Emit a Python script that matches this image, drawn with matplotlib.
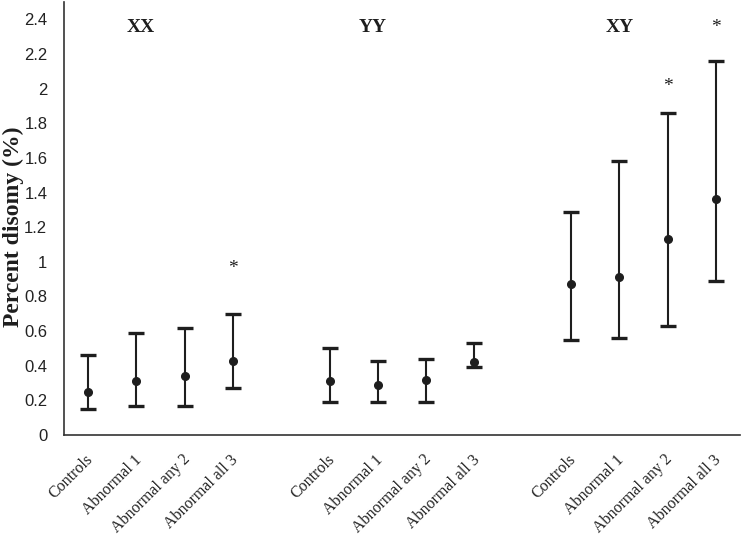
import matplotlib
matplotlib.use("Agg")
import matplotlib.pyplot as plt
import matplotlib.transforms as mtransforms
import numpy as np

groups = ["XX", "YY", "XY"]
categories = ["Controls", "Abnormal 1", "Abnormal any 2", "Abnormal all 3"]

# values per group (mean, upper, lower)
means = {
    "XX": [0.25, 0.31, 0.34, 0.43],
    "YY": [0.31, 0.29, 0.32, 0.42],
    "XY": [0.87, 0.91, 1.13, 1.36],
}
upper = {
    "XX": [0.46, 0.59, 0.62, 0.70],
    "YY": [0.50, 0.43, 0.44, 0.53],
    "XY": [1.29, 1.58, 1.86, 2.16],
}
lower = {
    "XX": [0.15, 0.17, 0.17, 0.27],
    "YY": [0.19, 0.19, 0.19, 0.39],
    "XY": [0.55, 0.56, 0.63, 0.89],
}
# significance stars (group, category index, y)
stars = [("XX", 3, 0.96), ("XY", 2, 2.01), ("XY", 3, 2.35)]
group_label_y = 2.35
group_label_x = {"XX": 1.1, "YY": 5.9, "XY": 11.0}

yticks = [0, 0.2, 0.4, 0.6, 0.8, 1, 1.2, 1.4, 1.6, 1.8, 2, 2.2, 2.4]
ytick_labels = ["0", "0.2", "0.4", "0.6", "0.8", "1", "1.2", "1.4", "1.6", "1.8", "2", "2.2", "2.4"]

fig = plt.figure(figsize=(7.42, 5.39), dpi=100)
ax = fig.add_axes([64 / 742, 1 - 435 / 539, (740 - 64) / 742, 433 / 539])

col = "#1e1e1e"
positions = []
labels = []
for gi, g in enumerate(groups):
    base = gi * 5
    xs = np.arange(4) + base
    m = np.array(means[g])
    up = np.array(upper[g]) - m
    lo = m - np.array(lower[g])
    ax.errorbar(xs, m, yerr=[lo, up], fmt="o", color=col, ms=5.5,
                elinewidth=1.5, capsize=5.5, capthick=2.4, ecolor=col)
    positions.extend(xs)
    labels.extend(categories)
    ax.text(group_label_x[g], group_label_y, g, ha="center", va="center",
            fontsize=14, fontweight="bold", family="Liberation Serif", color=col)

for g, ci, y in stars:
    x = groups.index(g) * 5 + ci
    ax.text(x, y, "*", ha="center", va="center", fontsize=14,
            family="Liberation Serif", color=col)

ax.set_xlim(-0.5, 13.5)
ax.set_ylim(0, 2.5)
ax.set_yticks(yticks)
ax.set_yticklabels(ytick_labels, family="Liberation Sans", fontsize=12, color="#222")
ax.set_xticks(positions)
ax.set_xticklabels(labels, rotation=45, ha="right", rotation_mode="anchor",
                   family="Liberation Serif", fontsize=11.5, color="#222")
ax.tick_params(axis="both", length=0)
ax.tick_params(axis="y", pad=12)
ax.tick_params(axis="x", pad=12)
for lbl in ax.get_xticklabels():
    lbl.set_transform(lbl.get_transform() + mtransforms.ScaledTranslation(-3 / 100, 0, fig.dpi_scale_trans))

for s in ["top", "right"]:
    ax.spines[s].set_visible(False)
for s in ["left", "bottom"]:
    ax.spines[s].set_color("#333")
    ax.spines[s].set_linewidth(1.2)

fig.text(13 / 742, 1 - 227 / 539, "Percent disomy (%)", rotation=90, ha="center",
         va="center", fontsize=17, fontweight="bold", family="Liberation Serif", color=col)

fig.savefig("out.png", dpi=100)
